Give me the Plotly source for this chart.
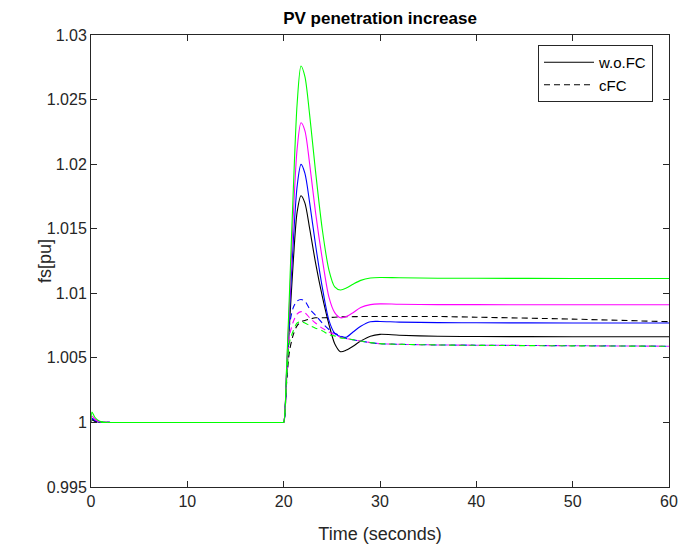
import plotly.graph_objects as go

# ---- data ----
t = [0, 0.1, 0.4, 0.8, 1.3, 2, 5, 10, 15, 19, 19.9, 20, 20.3, 20.6, 21.0, 21.4, 21.8, 22.2, 22.7, 23.3,
     24.0, 24.7, 25.3, 25.9, 26.5, 27.2, 28.0, 29.0, 30.0, 32, 36, 40, 50, 60]

black_wofc = [1.0, 1.0002, 1.0001, 1.00003, 1.0, 1.0, 1.0, 1.0, 1.0, 1.0, 1.0, 1.0, 1.0035, 1.0075, 1.0125, 1.0163,
              1.01755, 1.0170, 1.0150, 1.0124, 1.0098, 1.0076, 1.0061, 1.00548, 1.0056, 1.0059,
              1.0063, 1.00668, 1.00682, 1.00675, 1.00667, 1.00665, 1.00664, 1.00664]
blue_wofc = [1.0, 1.0003, 1.00015, 1.00005, 1.00001, 1.0, 1.0, 1.0, 1.0, 1.0, 1.0, 1.0, 1.0038, 1.0085, 1.0140, 1.0183,
             1.01998, 1.0193, 1.0170, 1.0138, 1.0105, 1.0079, 1.0069, 1.00665, 1.0066, 1.0070,
             1.00745, 1.0078, 1.00782, 1.00777, 1.00773, 1.00772, 1.0077, 1.0077]
magenta_wofc = [1.0, 1.0005, 1.00025, 1.00008, 1.00002, 1.0, 1.0, 1.0, 1.0, 1.0, 1.0, 1.0, 1.0040, 1.0092, 1.0160, 1.0212,
                1.0232, 1.0226, 1.0200, 1.0163, 1.0127, 1.0097, 1.0085, 1.0081, 1.0082, 1.0085,
                1.0089, 1.00912, 1.00918, 1.00915, 1.00912, 1.00912, 1.00911, 1.00911]
green_wofc = [1.0, 1.0008, 1.0004, 1.00013, 1.00003, 1.0, 1.0, 1.0, 1.0, 1.0, 1.0, 1.0, 1.0042, 1.0100, 1.0180, 1.0247,
              1.0276, 1.0268, 1.0238, 1.0195, 1.0150, 1.0118, 1.0105, 1.01026, 1.0104, 1.0107,
              1.0110, 1.01118, 1.01122, 1.0112, 1.01117, 1.01116, 1.01115, 1.01115]

black_cfc = [1.0, 1.0002, 1.0001, 1.00003, 1.0, 1.0, 1.0, 1.0, 1.0, 1.0, 1.0, 1.0, 1.0030, 1.0055, 1.0068, 1.0075,
             1.0078, 1.0079, 1.0080, 1.0081, 1.0081, 1.00812, 1.00815, 1.00817, 1.00818, 1.00819,
             1.0082, 1.0082, 1.0082, 1.0082, 1.0082, 1.00815, 1.0080, 1.0078]
blue_cfc = [1.0, 1.0003, 1.00015, 1.00005, 1.00001, 1.0, 1.0, 1.0, 1.0, 1.0, 1.0, 1.0, 1.0035, 1.0075, 1.0089, 1.0094,
            1.00952, 1.0094, 1.0088, 1.0083, 1.0077, 1.0072, 1.0069, 1.0067, 1.0065, 1.0064,
            1.0063, 1.00618, 1.0061, 1.00605, 1.0060, 1.00598, 1.00594, 1.0059]
magenta_cfc = [1.0, 1.0005, 1.00025, 1.00008, 1.00002, 1.0, 1.0, 1.0, 1.0, 1.0, 1.0, 1.0, 1.0033, 1.0067, 1.0078, 1.0084,
               1.00858, 1.0085, 1.0081, 1.0077, 1.0073, 1.0070, 1.0068, 1.0066, 1.0065, 1.0064,
               1.0063, 1.00618, 1.0061, 1.00605, 1.0060, 1.00598, 1.00594, 1.0059]
green_cfc = [1.0, 1.0, 1.0, 1.0, 1.0, 1.0, 1.0, 1.0, 1.0, 1.0, 1.0, 1.0, 1.0032, 1.0062, 1.0071, 1.0077,
             1.0078, 1.0077, 1.0075, 1.0073, 1.0071, 1.0068, 1.0067, 1.00655, 1.0065, 1.0064,
             1.0063, 1.00618, 1.0061, 1.00605, 1.0060, 1.00597, 1.00593, 1.0059]

x_ticks = [0, 10, 20, 30, 40, 50, 60]
x_ticktext = ["0", "10", "20", "30", "40", "50", "60"]
y_ticks = [0.995, 1.0, 1.005, 1.01, 1.015, 1.02, 1.025, 1.03]
y_ticktext = ["0.995", "1", "1.005", "1.01", "1.015", "1.02", "1.025", "1.03"]

series = [
    ("w.o.FC", black_wofc, "#000000", "solid", True),
    ("cFC", black_cfc, "#000000", "6px,4px", True),
    ("blue w.o.FC", blue_wofc, "#0000FF", "solid", False),
    ("blue cFC", blue_cfc, "#0000FF", "6px,4px", False),
    ("magenta w.o.FC", magenta_wofc, "#FF00FF", "solid", False),
    ("magenta cFC", magenta_cfc, "#FF00FF", "6px,4px", False),
    ("green w.o.FC", green_wofc, "#00FF00", "solid", False),
    ("green cFC", green_cfc, "#00FF00", "6px,4px", False),
]

fig = go.Figure()
for name, vals, color, dash, show in series:
    fig.add_trace(go.Scatter(
        x=t, y=vals, mode="lines", name=name, showlegend=show,
        line=dict(color=color, width=1.1, dash=dash, shape="spline", smoothing=0.8),
    ))

axis_color = "#262626"
font_family = "Liberation Sans, Arial, sans-serif"

W, H = 680, 545
ML, MR, MT, MB = 91, 11, 35, 58
PW = W - ML - MR

fig.update_layout(
    width=W, height=H,
    margin=dict(l=ML, r=MR, t=MT, b=MB),
    paper_bgcolor="white", plot_bgcolor="white",
    font=dict(family=font_family, size=16, color=axis_color),
    title=dict(text="<b>PV penetration increase</b>", x=(ML + (W - MR)) / 2 / W, xanchor="center",
               y=1 - 18 / H, yanchor="middle", font=dict(size=17, color="#000000")),
    legend=dict(x=(653 - ML) / PW, y=0.978, xanchor="right", yanchor="top",
                bgcolor="white", bordercolor=axis_color, borderwidth=1,
                font=dict(size=15, color="#000000"), tracegroupgap=0,
                itemwidth=50),
    showlegend=True,
    annotations=[dict(text="fs[pu]", textangle=-90, xref="paper", yref="paper",
                      x=(45 - ML) / PW, y=0.5, xanchor="center", yanchor="middle",
                      showarrow=False, font=dict(size=18, color=axis_color))],
)
fig.update_xaxes(range=[0, 60], tickvals=x_ticks, ticktext=x_ticktext, automargin=False,
                 showline=True, linecolor=axis_color, linewidth=1, mirror="ticks",
                 ticks="inside", ticklen=6, tickcolor=axis_color, showgrid=False, zeroline=False,
                 title=dict(text="Time (seconds)", font=dict(size=18), standoff=18),
                 tickfont=dict(size=16))
fig.update_yaxes(range=[0.995, 1.03], tickvals=y_ticks, ticktext=y_ticktext, automargin=False,
                 showline=True, linecolor=axis_color, linewidth=1, mirror="ticks",
                 ticks="inside", ticklen=6, tickcolor=axis_color, showgrid=False, zeroline=False,
                 tickfont=dict(size=16))

fig.write_html("out.html", config={"displayModeBar": False},
               post_script="document.body.style.margin='0';document.body.style.overflow='hidden';")
